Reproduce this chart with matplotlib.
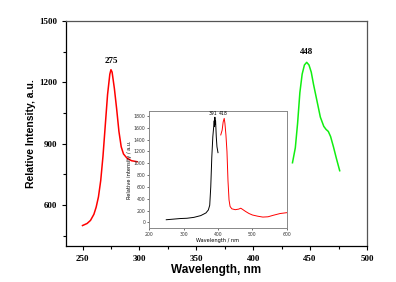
import matplotlib
matplotlib.use("Agg")
import matplotlib.pyplot as plt
from matplotlib.ticker import MultipleLocator

# main spectrum: excitation (red) and emission (green)
exc_wl = [250, 254, 257, 260, 262, 264, 266, 268, 270, 272, 274, 275, 276, 278,
          280, 282, 284, 286, 289, 293, 298]
exc_int = [500, 510, 525, 555, 590, 640, 720, 840, 990, 1140, 1240, 1262, 1250,
           1170, 1070, 960, 885, 850, 830, 817, 812]

em_wl = [434.5, 437, 439, 441, 443, 445, 447, 449, 451, 453, 456, 459, 462, 464,
         466, 468, 470.5, 473, 476]
em_int = [807, 880, 1000, 1150, 1240, 1285, 1298, 1285, 1250, 1190, 1110, 1030,
          985, 970, 960, 935, 885, 830, 768]

# inset spectrum
ins_blk_wl = [250, 270, 290, 310, 330, 350, 365, 372, 376, 379, 382, 385, 388,
              389, 390, 391, 392, 393, 395, 397, 400]
ins_blk_int = [45, 55, 65, 70, 85, 115, 160, 210, 290, 600, 1100, 1450, 1650,
               1720, 1620, 1780, 1660, 1720, 1450, 1280, 1180]

ins_red_wl = [408, 412, 415, 418, 420, 423, 426, 429, 432, 435, 440, 450, 460,
              466, 470, 480, 490, 500, 515, 530, 545, 560, 580, 600]
ins_red_int = [1480, 1560, 1700, 1760, 1680, 1480, 1200, 700, 380, 270, 230, 215,
               225, 240, 225, 185, 150, 125, 105, 90, 95, 120, 150, 165]

peak_labels = ["275", "448"]
peak_pos = [(275.5, 1306), (446.5, 1350)]
inset_peaks = ["391", "418"]
inset_peak_pos = [(385, 1850), (414, 1850)]

fig = plt.figure(figsize=(3.96, 2.82), dpi=100)
ax = fig.add_axes([0.1667, 0.1277, 0.7601, 0.7978])

ax.plot(exc_wl, exc_int, color="#ff0000", lw=1.1)
ax.plot(em_wl, em_int, color="#11ee11", lw=1.1)

ax.set_xlim(235.5, 500)
ax.set_ylim(400, 1500)
ax.xaxis.set_major_locator(MultipleLocator(50))
ax.xaxis.set_minor_locator(MultipleLocator(25))
ax.yaxis.set_major_locator(MultipleLocator(300))
ax.yaxis.set_minor_locator(MultipleLocator(150))
ax.set_yticks([600, 900, 1200, 1500])
ax.tick_params(which="major", length=3, width=0.8, direction="out")
ax.tick_params(which="minor", length=2, width=0.8, direction="out")
for lab in ax.get_xticklabels() + ax.get_yticklabels():
    lab.set_family("Liberation Serif")
    lab.set_fontweight("bold")
    lab.set_fontsize(6.5)
for s in ax.spines.values():
    s.set_linewidth(0.9)
ax.spines["top"].set_color("#555555")
ax.spines["right"].set_color("#555555")

ax.set_xlabel("Wavelength, nm", family="Liberation Sans", fontweight="bold",
              fontsize=8.5, labelpad=1)
ax.set_ylabel("Relative Intensity, a.u.", family="Liberation Sans",
              fontweight="bold", fontsize=7.5, labelpad=2)

for t, (x, y) in zip(peak_labels, peak_pos):
    ax.text(x, y, t, ha="center", va="center", family="Liberation Serif",
            fontweight="bold", fontsize=6.5)

# inset
ins = fig.add_axes([0.3763, 0.1904, 0.3484, 0.4160])
ins.plot(ins_blk_wl, ins_blk_int, color="black", lw=0.7)
ins.plot(ins_red_wl, ins_red_int, color="#ff0000", lw=0.7)
ins.set_xlim(200, 600)
ins.set_ylim(-100, 1885)
ins.set_xticks([200, 300, 400, 500, 600])
ins.set_yticks(list(range(0, 1801, 200)))
ins.tick_params(labelsize=3.3, length=1.5, width=0.5, pad=1, colors="#333333")
for s in ins.spines.values():
    s.set_linewidth(0.7)
    s.set_color("#888888")
ins.set_xlabel("Wavelength / nm", fontsize=3.6, labelpad=1)
ins.set_ylabel("Relative intensity / a.u.", fontsize=3.6, labelpad=1)
for t, (x, y) in zip(inset_peaks, inset_peak_pos):
    ins.text(x, y, t, ha="center", va="center", fontsize=3.3)

fig.savefig("out.png", dpi=100)
